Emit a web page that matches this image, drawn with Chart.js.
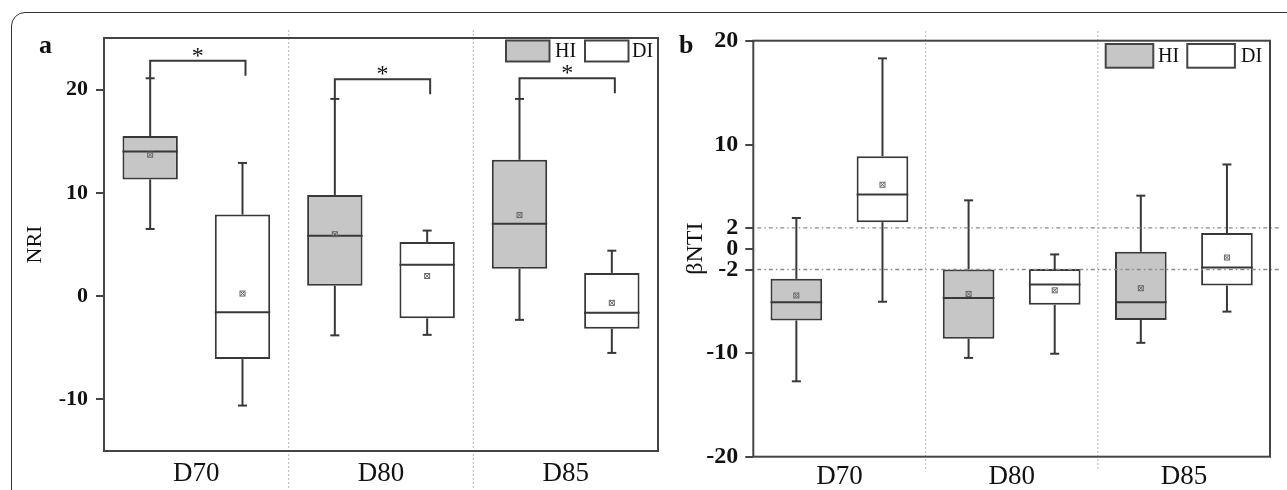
<!DOCTYPE html>
<html>
<head>
<meta charset="utf-8">
<script src="https://cdn.jsdelivr.net/npm/chart.js@4.4.1/dist/chart.umd.min.js"></script>
<style>
  html, body { margin: 0; padding: 0; background: #fff; width: 1287px; height: 490px; overflow: hidden; }
  #frame { position: absolute; left: 11px; top: 12px; width: 1320px; height: 520px; border: 1.5px solid #333; border-radius: 14px; }
  canvas { position: absolute; top: 0; }
  .tag { position: absolute; font-family: 'Liberation Serif', serif; font-weight: bold; font-size: 26px; color: #111; line-height: 30px; }
</style>
</head>
<body>
<div id="frame"></div>
<canvas id="nriChart" width="660" height="490" style="left:0"></canvas>
<canvas id="bntiChart" width="627" height="490" style="left:660px"></canvas>
<div class="tag" style="left:39px;top:30px">a</div>
<div class="tag" style="left:679px;top:30px">b</div>
<script>
const categories = ['D70', 'D80', 'D85'];
const groups = ['HI', 'DI'];

// panel a: NRI
const nriHiMin    = [6.5, -3.8, -2.3];
const nriHiQ1     = [11.3, 1.0, 2.65];
const nriHiMedian = [14.0, 5.85, 7.0];
const nriHiQ3     = [15.5, 9.8, 13.2];
const nriHiMax    = [21.1, 19.1, 19.1];
const nriHiMean   = [13.7, 6.0, 7.85];
const nriDiMin    = [-10.6, -3.75, -5.5];
const nriDiQ1     = [-6.1, -2.15, -3.15];
const nriDiMedian = [-1.55, 3.05, -1.6];
const nriDiQ3     = [7.9, 5.25, 2.25];
const nriDiMax    = [12.9, 6.35, 4.4];
const nriDiMean   = [0.25, 1.95, -0.65];
const nriTicks    = [-10, 0, 10, 20];
const nriSigTop   = [22.8, 21.0, 21.1];
const nriSigMark  = ['*', '*', '*'];

// panel b: betaNTI
const bntiHiMin    = [-12.75, -10.5, -9.05];
const bntiHiQ1     = [-6.9, -8.65, -6.85];
const bntiHiMedian = [-5.15, -4.75, -5.15];
const bntiHiQ3     = [-2.9, -2.0, -0.3];
const bntiHiMax    = [2.95, 4.65, 5.1];
const bntiHiMean   = [-4.5, -4.35, -3.8];
const bntiDiMin    = [-5.1, -10.1, -6.05];
const bntiDiQ1     = [2.55, -5.4, -3.55];
const bntiDiMedian = [5.2, -3.45, -1.8];
const bntiDiQ3     = [8.9, -1.95, 1.5];
const bntiDiMax    = [18.3, -0.55, 8.1];
const bntiDiMean   = [6.15, -4.0, -0.85];
const bntiTicks    = [-20, -10, -2, 0, 2, 10, 20];
const bntiRefLines = [2, -2];

const SERIF = "'Liberation Serif', 'DejaVu Serif', serif";
const INK = '#383838';
const FILLS = ['#c6c6c6', '#ffffff'];

function line(ctx, x1, y1, x2, y2) {
    ctx.beginPath(); ctx.moveTo(x1, y1); ctx.lineTo(x2, y2); ctx.stroke();
}

function boxPlugin(stats, extra) {
    return {
        id: 'boxExtras',
        beforeDatasetsDraw(chart) {
            const { ctx, scales: { x } } = chart;
            ctx.save();
            ctx.strokeStyle = '#c4c4c4';
            ctx.lineWidth = 1.2;
            ctx.setLineDash([2, 2]);
            for (let i = 0; i < categories.length - 1; i++) {
                const sx = (x.getPixelForValue(i) + x.getPixelForValue(i + 1)) / 2;
                line(ctx, sx, extra.sepTop, sx, extra.sepBottom);
            }
            ctx.restore();
        },
        afterDatasetsDraw(chart) {
            const { ctx, chartArea: area, scales: { y } } = chart;
            ctx.save();
            ctx.strokeStyle = INK;
            ctx.lineWidth = 2;
            chart.data.datasets.forEach((ds, di) => {
                const s = stats[di];
                chart.getDatasetMeta(di).data.forEach((bar, i) => {
                    const { x: cx, width } = bar.getProps(['x', 'width'], true);
                    const hw = width / 2;
                    const yMax = y.getPixelForValue(s.max[i]);
                    const yQ3 = y.getPixelForValue(s.q3[i]);
                    const yQ1 = y.getPixelForValue(s.q1[i]);
                    const yMin = y.getPixelForValue(s.min[i]);
                    const yMed = y.getPixelForValue(s.median[i]);
                    const yMean = y.getPixelForValue(s.mean[i]);
                    line(ctx, cx, yQ3, cx, yMax);
                    line(ctx, cx - 4.5, yMax, cx + 4.5, yMax);
                    line(ctx, cx, yQ1, cx, yMin);
                    line(ctx, cx - 4.5, yMin, cx + 4.5, yMin);
                    line(ctx, cx - hw, yMed, cx + hw, yMed);
                    ctx.save();
                    ctx.lineWidth = 1;
                    ctx.strokeStyle = '#666';
                    ctx.strokeRect(cx - 2.5, yMean - 2.5, 5, 5);
                    line(ctx, cx - 2, yMean - 2, cx + 2, yMean + 2);
                    line(ctx, cx - 2, yMean + 2, cx + 2, yMean - 2);
                    ctx.restore();
                });
            });
            if (extra.refLines) {
                ctx.strokeStyle = '#8a8a8a';
                ctx.lineWidth = 1.3;
                ctx.setLineDash([4, 3, 1.5, 3]);
                extra.refLines.forEach(v => {
                    const ry = y.getPixelForValue(v);
                    line(ctx, area.left + 4, ry, area.right + 9, ry);
                });
            }
            ctx.restore();
        },
        afterDraw(chart) {
            const { ctx, chartArea: area, scales: { y } } = chart;
            ctx.save();
            ctx.strokeStyle = '#444';
            ctx.lineWidth = 2;
            ctx.strokeRect(area.left, area.top, area.right - area.left, area.bottom - area.top);

            // legend
            const lg = extra.legend;
            ctx.font = `20px ${SERIF}`;
            ctx.textBaseline = 'middle';
            groups.forEach((g, gi) => {
                ctx.fillStyle = FILLS[gi];
                ctx.fillRect(lg.boxX[gi], lg.top, lg.w, lg.h);
                ctx.strokeStyle = '#444';
                ctx.strokeRect(lg.boxX[gi], lg.top, lg.w, lg.h);
                ctx.fillStyle = '#111';
                ctx.fillText(chart.data.datasets[gi].label, lg.textX[gi], lg.top + lg.h / 2 + 1);
            });

            // significance brackets
            if (extra.sig) {
                const hiBars = chart.getDatasetMeta(0).data;
                const diBars = chart.getDatasetMeta(1).data;
                ctx.strokeStyle = INK;
                ctx.lineWidth = 2;
                ctx.font = `24px ${SERIF}`;
                ctx.textAlign = 'center';
                ctx.textBaseline = 'alphabetic';
                extra.sig.top.forEach((v, i) => {
                    const x1 = hiBars[i].x, x2 = diBars[i].x + 3;
                    const ty = y.getPixelForValue(v);
                    const legL = y.getPixelForValue(stats[0].max[i]);
                    ctx.beginPath();
                    ctx.moveTo(x1, legL); ctx.lineTo(x1, ty); ctx.lineTo(x2, ty); ctx.lineTo(x2, ty + 15);
                    ctx.stroke();
                    ctx.fillText(extra.sig.mark[i], (x1 + x2) / 2, ty + 2);
                });
            }
            ctx.restore();
        }
    };
}

function makeBoxChart(canvasId, stats, opt) {
    const datasets = groups.map((g, gi) => ({
        label: g,
        data: categories.map((c, i) => [stats[gi].q1[i], stats[gi].q3[i]]),
        backgroundColor: FILLS[gi],
        borderColor: INK,
        borderWidth: 2,
        borderSkipped: false,
        categoryPercentage: 1.0,
        barPercentage: 0.6
    }));
    return new Chart(document.getElementById(canvasId), {
        type: 'bar',
        data: { labels: categories, datasets },
        options: {
            responsive: false,
            animation: false,
            layout: { padding: { top: opt.padTop, right: opt.padRight, left: 0, bottom: 0 } },
            plugins: { legend: { display: false }, tooltip: { enabled: false } },
            scales: {
                x: {
                    grid: { display: false },
                    border: { display: false },
                    ticks: { color: '#111', padding: opt.xPad, font: { family: SERIF, size: 27 } },
                    afterFit: s => { s.height = opt.xHeight; }
                },
                y: {
                    min: opt.yMin,
                    max: opt.yMax,
                    afterBuildTicks: s => { s.ticks = opt.ticks.map(v => ({ value: v })); },
                    grid: { display: true, drawOnChartArea: false, drawTicks: true, tickLength: 8, color: '#444', lineWidth: 2 },
                    border: { display: false },
                    ticks: { autoSkip: false, color: '#111', padding: opt.yPad, font: { family: SERIF, size: opt.tickSize, weight: 'bold' } },
                    title: { display: true, text: opt.title, color: '#111', padding: { top: opt.titlePad, bottom: 0 }, font: { family: SERIF, size: opt.titleSize } },
                    afterFit: s => { s.width = opt.yWidth; }
                }
            }
        },
        plugins: [boxPlugin(stats, opt.extra)]
    });
}

const nriStats = [
    { min: nriHiMin, q1: nriHiQ1, median: nriHiMedian, q3: nriHiQ3, max: nriHiMax, mean: nriHiMean },
    { min: nriDiMin, q1: nriDiQ1, median: nriDiMedian, q3: nriDiQ3, max: nriDiMax, mean: nriDiMean }
];
const bntiStats = [
    { min: bntiHiMin, q1: bntiHiQ1, median: bntiHiMedian, q3: bntiHiQ3, max: bntiHiMax, mean: bntiHiMean },
    { min: bntiDiMin, q1: bntiDiQ1, median: bntiDiMedian, q3: bntiDiQ3, max: bntiDiMax, mean: bntiDiMean }
];

makeBoxChart('nriChart', nriStats, {
    padTop: 38, padRight: 2, xHeight: 39, xPad: -1, yWidth: 104, yPad: 8,
    yMin: -15, yMax: 25, ticks: nriTicks, tickSize: 22,
    title: 'NRI', titleSize: 22, titlePad: 22,
    extra: {
        sepTop: 30, sepBottom: 490,
        legend: { boxX: [506, 585], textX: [555, 632], top: 40.5, w: 43.5, h: 21 },
        sig: { top: nriSigTop, mark: nriSigMark }
    }
});

makeBoxChart('bntiChart', bntiStats, {
    padTop: 40.7, padRight: 17, xHeight: 33.3, xPad: -4, yWidth: 93.3, yPad: 7,
    yMin: -20, yMax: 20, ticks: bntiTicks, tickSize: 24,
    title: 'βNTI', titleSize: 24, titlePad: 21,
    extra: {
        sepTop: 31, sepBottom: 470,
        refLines: bntiRefLines,
        legend: { boxX: [445.7, 527.3], textX: [498, 581], top: 44, w: 47.6, h: 23.7 }
    }
});
</script>
</body>
</html>
